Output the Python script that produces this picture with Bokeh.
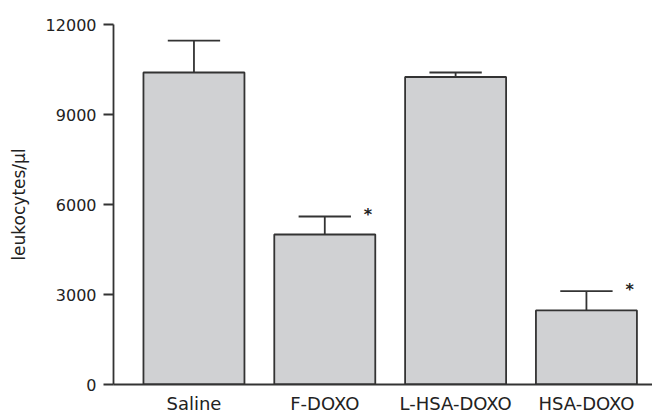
from bokeh.plotting import figure
from bokeh.models import Range1d, FixedTicker, ColumnDataSource
from bokeh.core.properties import value
from bokeh.embed import file_html
from bokeh.resources import INLINE

# ---- data ----
categories = ["Saline", "F-DOXO", "L-HSA-DOXO", "HSA-DOXO"]
means = [10400, 5000, 10250, 2470]
errors = [1060, 600, 150, 640]
significant = [False, True, False, True]
y_ticks = [0, 3000, 6000, 9000, 12000]

xs = list(range(len(categories)))
tops = [m + e for m, e in zip(means, errors)]

BAR_W = 0.772
CAP_W = 0.40
INK = "#333333"

p = figure(
    output_backend="svg", toolbar_location=None,
    frame_width=539, frame_height=360,
    min_border_left=113, min_border_right=0, min_border_top=24, min_border_bottom=0,
    x_range=Range1d(-0.615, 3.505), y_range=Range1d(0, 12000),
)
p.outline_line_color = None
p.xgrid.visible = False
p.ygrid.visible = False
p.background_fill_color = "white"
p.border_fill_color = "white"

src = ColumnDataSource(dict(x=xs, top=means, err_top=tops,
                            cap_l=[x - CAP_W / 2 for x in xs],
                            cap_r=[x + CAP_W / 2 for x in xs]))

p.vbar(x="x", top="top", bottom=0, width=BAR_W, source=src,
       fill_color="#d0d1d3", line_color=INK, line_width=1.8)
p.segment(x0="x", y0="top", x1="x", y1="err_top", source=src,
          line_color=INK, line_width=1.8)
p.segment(x0="cap_l", y0="err_top", x1="cap_r", y1="err_top", source=src,
          line_color=INK, line_width=1.8)

sx = [x + 0.33 for x, s in zip(xs, significant) if s]
sy = [t for t, s in zip(tops, significant) if s]
p.text(x=sx, y=sy, text=["*"] * len(sx), text_align="center",
       text_baseline="middle", y_offset=-2,
       text_font=value("DejaVu Sans"), text_font_size="16px",
       text_font_style="bold", text_color="#222222")

# y axis
ya = p.yaxis[0]
ya.ticker = FixedTicker(ticks=y_ticks)
ya.minor_tick_line_color = None
ya.major_tick_out = 10
ya.major_tick_in = 0
ya.axis_line_color = INK
ya.axis_line_width = 1.8
ya.major_tick_line_color = INK
ya.major_tick_line_width = 1.8
ya.major_label_text_font = "DejaVu Sans"
ya.major_label_text_font_size = "16px"
ya.major_label_text_color = "#222222"
ya.major_label_standoff = 7
ya.axis_label = "leukocytes/µl"
ya.axis_label_text_font = "DejaVu Sans"
ya.axis_label_text_font_size = "17px"
ya.axis_label_text_font_style = "normal"
ya.axis_label_text_color = "#222222"
ya.axis_label_standoff = 14

# x axis
xa = p.xaxis[0]
xa.ticker = FixedTicker(ticks=xs)
xa.major_label_overrides = {i: c for i, c in zip(xs, categories)}
xa.minor_tick_line_color = None
xa.major_tick_line_color = None
xa.major_tick_out = 0
xa.major_tick_in = 0
xa.axis_line_color = INK
xa.axis_line_width = 1.8
xa.major_label_text_font = "DejaVu Sans"
xa.major_label_text_font_size = "18px"
xa.major_label_text_color = "#222222"
xa.major_label_standoff = 8

open("out.html", "w").write(file_html(p, INLINE))
